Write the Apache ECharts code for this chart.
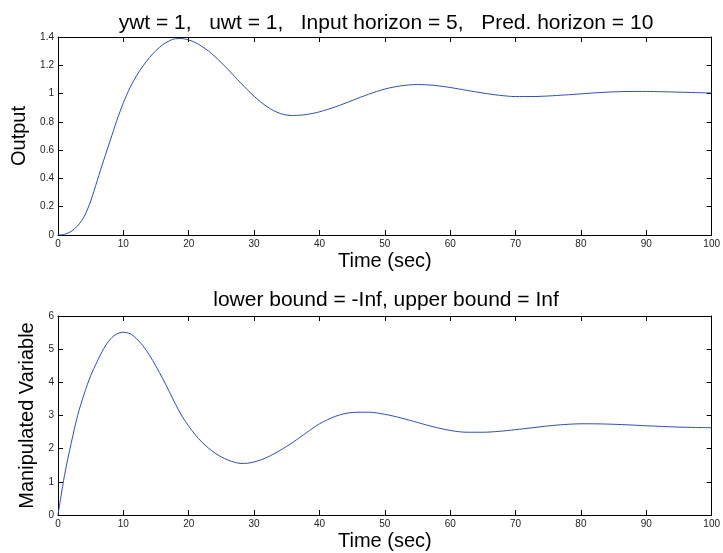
<!DOCTYPE html>
<html>
<head>
<meta charset="utf-8">
<script src="https://cdn.jsdelivr.net/npm/echarts@6/dist/echarts.min.js"></script>
<style>
  html, body { margin: 0; padding: 0; background: #fff; }
  #chart { width: 723px; height: 553px; }
</style>
</head>
<body>
<div id="chart"></div>
<script>
var topTitle = 'ywt = 1,   uwt = 1,   Input horizon = 5,   Pred. horizon = 10';
var bottomTitle = 'lower bound = -Inf, upper bound = Inf';

// time samples (sec): every second up to 40, then every 2.5 s
var times = [0, 1, 2, 3, 4, 5, 6, 7, 8, 9, 10, 11, 12, 13, 14, 15, 16, 17, 18, 19, 20,
  21, 22, 23, 24, 25, 26, 27, 28, 29, 30, 31, 32, 33, 34, 35, 36, 37, 38, 39, 40,
  42.5, 45, 47.5, 50, 52.5, 55, 57.5, 60, 62.5, 65, 67.5, 70, 72.5, 75, 77.5, 80,
  82.5, 85, 87.5, 90, 92.5, 95, 97.5, 100];

var output = [0, 0.005, 0.025, 0.065, 0.13, 0.24, 0.385, 0.53, 0.67, 0.81, 0.935,
  1.04, 1.125, 1.195, 1.255, 1.305, 1.345, 1.372, 1.388, 1.389, 1.379,
  1.361, 1.334, 1.301, 1.262, 1.218, 1.171, 1.122, 1.073, 1.026, 0.981,
  0.941, 0.907, 0.879, 0.859, 0.848, 0.845, 0.847, 0.852, 0.86, 0.871,
  0.907, 0.951, 0.995, 1.032, 1.055, 1.064, 1.058, 1.043, 1.023, 1.004, 0.988, 0.979,
  0.979, 0.983, 0.99, 0.998, 1.006, 1.012, 1.015, 1.015, 1.013, 1.01, 1.007, 1.004];

var manipulated = [0, 1.2, 2.15, 3.0, 3.65, 4.2, 4.63, 5.02, 5.3, 5.46, 5.51,
  5.47, 5.32, 5.1, 4.82, 4.48, 4.12, 3.73, 3.33, 2.97, 2.68,
  2.42, 2.2, 2.02, 1.87, 1.75, 1.66, 1.59, 1.555, 1.56, 1.6,
  1.66, 1.74, 1.84, 1.95, 2.07, 2.2, 2.34, 2.48, 2.62, 2.75,
  2.98, 3.09, 3.1, 3.036, 2.925, 2.79, 2.655, 2.55, 2.495, 2.495, 2.523, 2.572,
  2.629, 2.686, 2.728, 2.75, 2.748, 2.735, 2.715, 2.69, 2.67, 2.65, 2.64, 2.63];

var lineColor = '#2f4fa8';
var font = 'Liberation Sans, Arial, sans-serif';

function pairs(xs, ys) {
  var out = [];
  for (var i = 0; i < xs.length; i++) out.push([xs[i], ys[i]]);
  return out;
}

function xAxisFor(grid, pos, showLabel) {
  return {
    type: 'value', gridIndex: grid, position: pos, min: 0, max: 100, interval: 10,
    name: showLabel ? 'Time (sec)' : '', nameLocation: 'middle', nameGap: 16,
    nameTextStyle: { fontFamily: font, fontSize: 20, color: '#000' },
    axisLine: { show: true, onZero: false, lineStyle: { color: '#000', width: 1 } },
    axisTick: { show: true, inside: true, length: 5, lineStyle: { color: '#000' } },
    axisLabel: { show: showLabel, fontFamily: font, fontSize: 10, color: '#222', margin: 4 },
    splitLine: { show: false }
  };
}

function yAxisFor(grid, pos, max, step, name, gap, showLabel) {
  return {
    type: 'value', gridIndex: grid, position: pos, min: 0, max: max, interval: step,
    name: showLabel ? name : '', nameLocation: 'middle', nameGap: gap,
    nameTextStyle: { fontFamily: font, fontSize: 20, color: '#000' },
    axisLine: { show: true, onZero: false, lineStyle: { color: '#000', width: 1 } },
    axisTick: { show: true, inside: true, length: 5, lineStyle: { color: '#000' } },
    axisLabel: { show: showLabel, fontFamily: font, fontSize: 10, color: '#222', margin: 4 },
    splitLine: { show: false }
  };
}

var chart = echarts.init(document.getElementById('chart'), null, { renderer: 'canvas' });
chart.setOption({
  backgroundColor: '#fff',
  animation: false,
  title: [
    { text: topTitle, left: 381, top: 8, textAlign: 'center',
      textStyle: { fontFamily: font, fontSize: 21, fontWeight: 'normal', color: '#000' } },
    { text: bottomTitle, left: 381, top: 285, textAlign: 'center',
      textStyle: { fontFamily: font, fontSize: 21, fontWeight: 'normal', color: '#000' } }
  ],
  grid: [
    { left: 58, right: 6, top: 37, height: 198 },
    { left: 58, right: 6, top: 316, height: 199 }
  ],
  xAxis: [
    xAxisFor(0, 'bottom', true),
    xAxisFor(0, 'top', false),
    xAxisFor(1, 'bottom', true),
    xAxisFor(1, 'top', false)
  ],
  yAxis: [
    yAxisFor(0, 'left', 1.4, 0.2, 'Output', 22, true),
    yAxisFor(0, 'right', 1.4, 0.2, '', 0, false),
    yAxisFor(1, 'left', 6, 1, 'Manipulated Variable', 12, true),
    yAxisFor(1, 'right', 6, 1, '', 0, false)
  ],
  series: [
    { type: 'line', xAxisIndex: 0, yAxisIndex: 0, data: pairs(times, output),
      smooth: 0.3, showSymbol: false, lineStyle: { color: lineColor, width: 1 } },
    { type: 'line', xAxisIndex: 2, yAxisIndex: 2, data: pairs(times, manipulated),
      smooth: 0.3, showSymbol: false, lineStyle: { color: lineColor, width: 1 } }
  ]
});
</script>
</body>
</html>
